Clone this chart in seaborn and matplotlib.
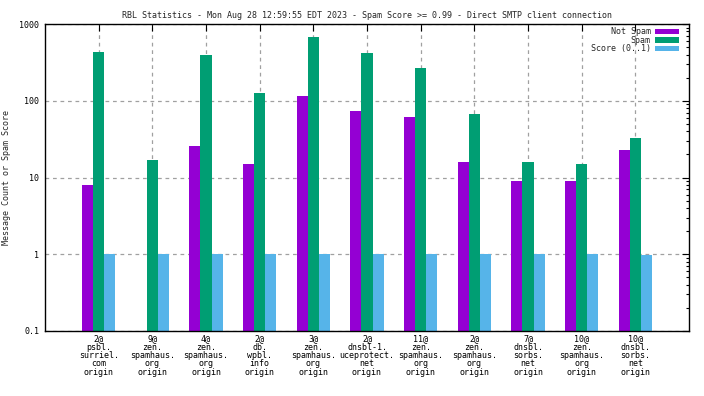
import numpy as np
import pandas as pd
import matplotlib
matplotlib.use("Agg")
import matplotlib.pyplot as plt
import seaborn as sns
from matplotlib.ticker import LogLocator, NullFormatter

title = "RBL Statistics - Mon Aug 28 12:59:55 EDT 2023 - Spam Score >= 0.99 - Direct SMTP client connection"

rbls = [
    "2@\npsbl.\nsurriel.\ncom\norigin",
    "9@\nzen.\nspamhaus.\norg\norigin",
    "4@\nzen.\nspamhaus.\norg\norigin",
    "2@\ndb.\nwpbl.\ninfo\norigin",
    "3@\nzen.\nspamhaus.\norg\norigin",
    "2@\ndnsbl-1.\nuceprotect.\nnet\norigin",
    "11@\nzen.\nspamhaus.\norg\norigin",
    "2@\nzen.\nspamhaus.\norg\norigin",
    "7@\ndnsbl.\nsorbs.\nnet\norigin",
    "10@\nzen.\nspamhaus.\norg\norigin",
    "10@\ndnsbl.\nsorbs.\nnet\norigin",
]
not_spam = [8, np.nan, 26, 15, 116, 74, 62, 16, 9, 9, 23]
spam = [436, 17, 400, 127, 684, 423, 269, 68, 16, 15, 33]
score = [1, 1, 1, 1, 1, 1, 1, 1, 1, 1, 0.98]

series = ["Not Spam", "Spam", "Score (0..1)"]
colors = ["#9400d3", "#009e73", "#56b4e9"]

df = pd.DataFrame({
    "rbl": rbls * 3,
    "series": np.repeat(series, len(rbls)),
    "value": not_spam + spam + score,
})
# keep distinct x keys even where labels repeat
df["pos"] = list(range(len(rbls))) * 3

sns.set_style("white")
mono = ["DejaVu Sans Mono"]
plt.rcParams["font.family"] = mono
plt.rcParams["font.size"] = 6

fig = plt.figure(figsize=(7.04, 3.96), dpi=100)
ax = fig.add_axes([45 / 704, 1 - 331 / 396, 644 / 704, 307 / 396])

sns.barplot(data=df, x="pos", y="value", hue="series", hue_order=series,
            palette=colors, width=0.62, gap=0, saturation=1, linewidth=0,
            errorbar=None, ax=ax)

ax.set_yscale("log")
ax.set_ylim(0.1, 1000)
ax.set_xlim(-1, len(rbls))
ax.set_yticks([0.1, 1, 10, 100, 1000])
ax.set_yticklabels(["0.1", "1", "10", "100", "1000"])
ax.yaxis.set_minor_locator(LogLocator(base=10, subs=np.arange(2, 10)))
ax.yaxis.set_minor_formatter(NullFormatter())
ax.set_xticks(range(len(rbls)))
ax.set_xticklabels(rbls, linespacing=0.9)

ax.tick_params(which="both", direction="in", top=True, right=True,
               colors="black", labelsize=6)
ax.tick_params(which="major", length=5, width=0.8, pad=4)
ax.tick_params(axis="x", which="major", pad=2.5)
ax.tick_params(which="minor", length=2.5, width=0.8)
ax.tick_params(axis="x", which="minor", top=False, bottom=False)

ax.grid(True, which="major", color="#a0a0a0", linestyle=(0, (3, 3)), lw=0.9)
ax.set_axisbelow(True)
for s in ax.spines.values():
    s.set_color("black")
    s.set_linewidth(1)

ax.set_xlabel("")
ax.set_ylabel("Message Count or Spam Score", fontsize=6, labelpad=6)
ax.set_title(title, fontsize=6, pad=4)

handles, labels = ax.get_legend_handles_labels()
ax.legend(handles, labels, loc="upper right", frameon=False, markerfirst=False,
          fontsize=6, handlelength=2.9, handleheight=0.6, labelspacing=-0.05,
          handletextpad=0.5, borderaxespad=0,
          bbox_to_anchor=(1 - 6.7 / 644, 1))

fig.savefig("out.png", dpi=100)
